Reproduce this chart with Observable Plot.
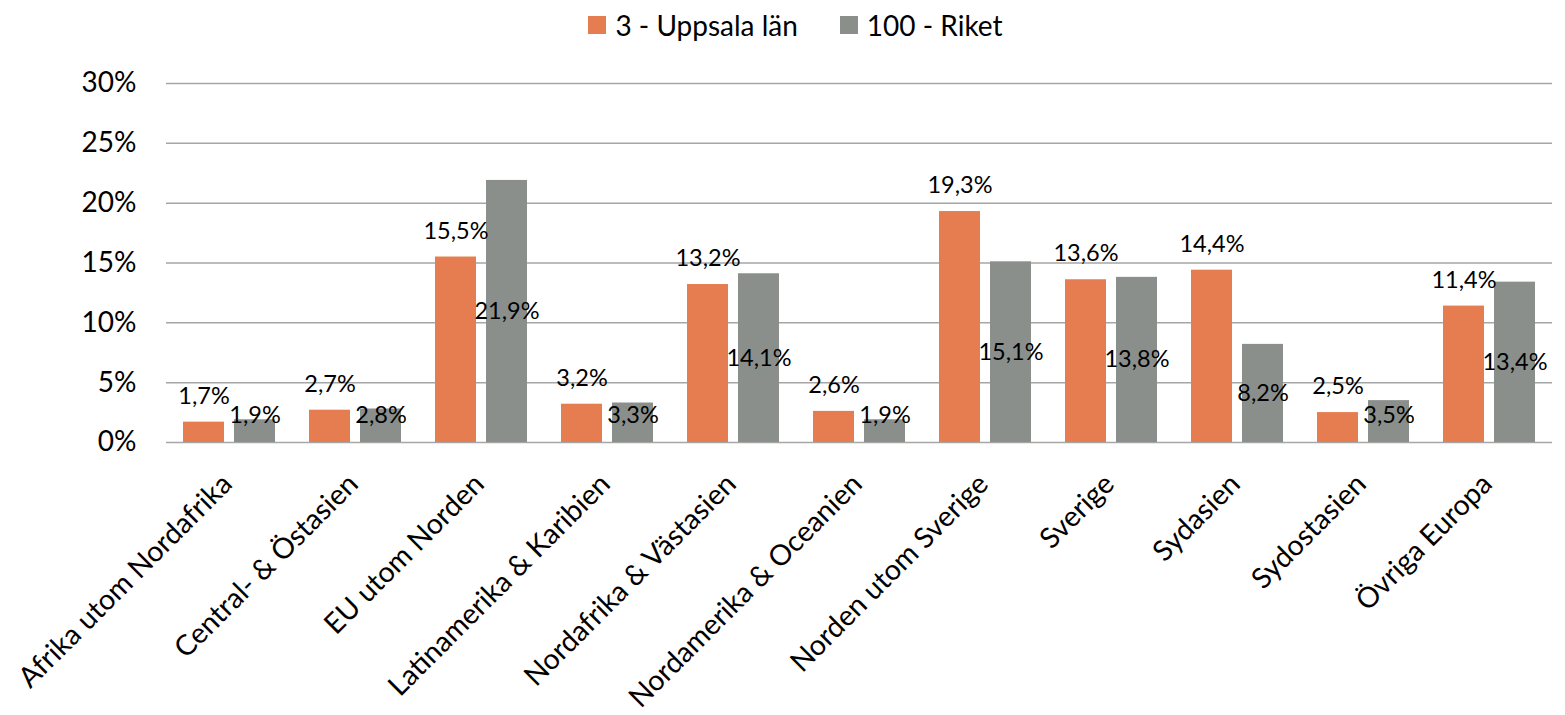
<!DOCTYPE html>
<html>
<head>
<meta charset="utf-8">
<script src="https://cdn.jsdelivr.net/npm/d3@7"></script>
<script src="https://cdn.jsdelivr.net/npm/@observablehq/plot@0.6"></script>
<style>
  html, body { margin: 0; padding: 0; background: #fff; }
  body { width: 1565px; height: 715px; overflow: hidden; font-family: Lato, "Open Sans", sans-serif; }
  #legend { height: 45px; display: flex; justify-content: center; align-items: center; padding-left: 26px; box-sizing: border-box; padding-top: 4px; font-size: 28px; color: #000; }
  .item { display: flex; align-items: center; margin: 0 21px; }
  .sw { width: 18px; height: 18px; margin-right: 9px; }
  svg { display: block; }
</style>
</head>
<body>
<div id="legend"></div>
<div id="chart"></div>
<script>
const categories = [
  "Afrika utom Nordafrika",
  "Central- & Östasien",
  "EU utom Norden",
  "Latinamerika & Karibien",
  "Nordafrika & Västasien",
  "Nordamerika & Oceanien",
  "Norden utom Sverige",
  "Sverige",
  "Sydasien",
  "Sydostasien",
  "Övriga Europa"
];
const seriesNames = ["3 - Uppsala län", "100 - Riket"];
const uppsala = [1.7, 2.7, 15.5, 3.2, 13.2, 2.6, 19.3, 13.6, 14.4, 2.5, 11.4];
const riket   = [1.9, 2.8, 21.9, 3.3, 14.1, 1.9, 15.1, 13.8, 8.2, 3.5, 13.4];
const yTicks = [0, 5, 10, 15, 20, 25, 30];
const colors = ["#E67D50", "#8A8F8C"];

const rows = categories.flatMap((c, i) => [
  {cat: c, series: seriesNames[0], value: uppsala[i]},
  {cat: c, series: seriesNames[1], value: riket[i]}
]);
const fmt = d => d3.format(".1f")(d.value).replace(".", ",") + "%";

// legend
const legend = document.getElementById("legend");
seriesNames.forEach((s, i) => {
  const it = document.createElement("div");
  it.className = "item";
  it.innerHTML = `<span class="sw" style="background:${colors[i]}"></span><span>${s}</span>`;
  legend.appendChild(it);
});

const chart = Plot.plot({
  width: 1565,
  height: 670,
  marginLeft: 165,
  marginRight: 12,
  marginTop: 38,
  marginBottom: 273,
  style: {fontFamily: "Lato, 'Open Sans', sans-serif", color: "#000", background: "#fff"},
  fx: {domain: categories, padding: 0, label: null},
  x: {domain: seriesNames, paddingInner: 0.19, paddingOuter: 0.31, axis: null},
  y: {domain: [0, 30], axis: null},
  color: {domain: seriesNames, range: colors},
  marks: [
    Plot.gridY(yTicks, {stroke: "#A6A6A6", strokeOpacity: 1, strokeWidth: 1.5}),
    Plot.barY(rows, {fx: "cat", x: "series", y: "value", fill: "series"}),
    Plot.text(rows.filter(d => d.series === seriesNames[0]), {
      fx: "cat", x: "series", y: "value", text: fmt, dy: -26, fontSize: 23.5, fill: "#000", lineAnchor: "middle"
    }),
    Plot.text(rows.filter(d => d.series === seriesNames[1]), {
      fx: "cat", x: "series", y: d => Math.max(d.value / 2, 2.25), text: fmt, fontSize: 23.5, fill: "#000", lineAnchor: "middle"
    }),
    Plot.axisY(yTicks, {tickSize: 0, tickPadding: 30, fontSize: 28, tickFormat: d => d + "%", label: null}),
    Plot.axisFx({anchor: "bottom", tickRotate: -45, tickSize: 0, tickPadding: 29, dx: -10, fontSize: 28.5, label: null, textAnchor: "end", lineAnchor: "top"})
  ]
});
document.getElementById("chart").appendChild(chart);
</script>
</body>
</html>
